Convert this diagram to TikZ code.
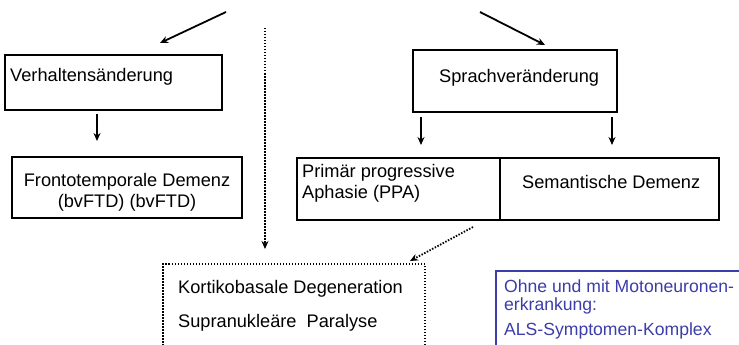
\documentclass[tikz,border=0pt]{standalone}
\usepackage{fontspec}
\setmainfont{Liberation Sans}
\usetikzlibrary{arrows.meta,positioning}
\definecolor{alsblue}{RGB}{60,60,170}
\begin{document}
\begin{tikzpicture}[x=1pt, y=-1pt,
    box/.style ={draw, line width=2pt, rectangle, inner sep=0pt},
    dotbox/.style ={draw, line width=1.8pt, dash pattern=on 1.5pt off 1.5pt, rectangle, inner sep=0pt},
    bluebox/.style ={draw=alsblue, line width=2pt, rectangle, inner sep=0pt},
    txt/.style ={inner sep=0pt, font=\fontsize{18.2}{21}\selectfont},
    arr/.style ={-{Stealth[length=8pt, width=7pt]}, line width=1.8pt},
    darr/.style ={arr, dash pattern=on 1.5pt off 1.5pt}]
    \useasboundingbox (0,0) rectangle (739,345);
    \clip (0,0) rectangle (739,345);
    % boxes
    \node[box, minimum width=217pt, minimum height=55pt] (verh) at (113.5,82.5) {};
    \node[box, minimum width=230pt, minimum height=61pt] (front) at (127,187.5) {};
    \node[box, minimum width=204pt, minimum height=62pt] (sprach) at (515,81) {};
    \node[box, minimum width=203pt, minimum height=62pt] (ppa) at (398.5,189) {};
    \node[box, minimum width=219pt, minimum height=62pt] (sem) at (609.5,189) {};
    \node[dotbox, minimum width=262pt, minimum height=116pt] (kort) at (294,322) {};
    \node[bluebox, minimum width=264pt, minimum height=119pt] (als) at (628,330.5) {};
    % texts
    \node[txt, anchor=north west] (verhtxt) at (10,68) {Verhaltensänderung};
    \node[txt, anchor=north, align=center] (fronttxt) at (127,173) {Frontotemporale Demenz\\(bvFTD) (bvFTD)};
    \node[txt, anchor=north west] (sprachtxt) at (439,69) {Sprachveränderung};
    \node[txt, anchor=north west, align=left] (ppatxt) at (302,164) {Primär progressive\\Aphasie (PPA)};
    \node[txt, anchor=north west] (semtxt) at (522,175) {Semantische Demenz};
    \node[txt, anchor=north west, align=left] (korttxt) at (178,280) {Kortikobasale Degeneration\\[13pt]Supranukleäre\ \ Paralyse};
    \node[txt, anchor=north west, align=left, text=alsblue, font=\fontsize{17.6}{21}\selectfont] (alstxt) at (504,280) {Ohne und mit Motoneuronen-\\[-3pt]erkrankung:\\[4pt]ALS-Symptomen-Komplex};
    % arrow ends
    \coordinate (t1) at (226,12);
    \coordinate (t1e) at (160,43);
    \coordinate (t2) at (480,12);
    \coordinate (t2e) at (545,45);
    \coordinate (v1) at (97,114);
    \coordinate (v1e) at (97,141);
    \coordinate (s1) at (421,117);
    \coordinate (s1e) at (421,145);
    \coordinate (s2) at (612,117);
    \coordinate (s2e) at (612,145);
    \coordinate (d1) at (265,28);
    \coordinate (d1e) at (265,249);
    \coordinate (d2) at (473,227);
    \coordinate (d2e) at (410,261);
    \draw[arr] (t1)--(t1e);
    \draw[arr] (t2)--(t2e);
    \draw[arr] (v1)--(v1e);
    \draw[arr] (s1)--(s1e);
    \draw[arr] (s2)--(s2e);
    \draw[darr] (d1)--(d1e);
    \draw[darr] (d2)--(d2e);
\end{tikzpicture}
\end{document}
